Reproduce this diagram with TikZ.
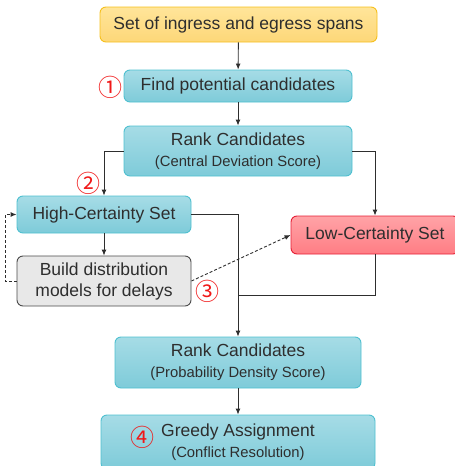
\documentclass[tikz,border=0pt]{standalone}
\usepackage{fontspec}
\setmainfont{Liberation Sans}
\newfontfamily\circfont{Noto Sans CJK SC}
\usetikzlibrary{arrows.meta}
\definecolor{txt}{HTML}{2E2E2E}
\definecolor{tealtop}{HTML}{A6DCE6}
\definecolor{tealbot}{HTML}{7ECBD9}
\definecolor{tealedge}{HTML}{4EC0D0}
\definecolor{yeltop}{HTML}{FFE59A}
\definecolor{yelbot}{HTML}{FDD778}
\definecolor{yeledge}{HTML}{F6C01C}
\definecolor{redtop}{HTML}{FFA3A7}
\definecolor{redbot}{HTML}{FF7D84}
\definecolor{rededge}{HTML}{E61E35}
\definecolor{grayfill}{HTML}{E8E8E8}
\definecolor{grayedge}{HTML}{4A4A4A}
\definecolor{numred}{HTML}{F01818}
\newcommand\subtext{\fontsize{14.8}{17}\selectfont}
\tikzset{
  box/.style={rounded corners=6pt, line width=0.9pt, align=center,
    text=txt, font=\fontsize{17.5}{21}\selectfont, inner sep=0pt},
  tealbox/.style={box, draw=tealedge, top color=tealtop, bottom color=tealbot},
  yelbox/.style={box, draw=yeledge, top color=yeltop, bottom color=yelbot},
  redbox/.style={box, draw=rededge, top color=redtop, bottom color=redbot},
  graybox/.style={box, draw=grayedge, fill=grayfill},
  conn/.style={draw=txt, line width=0.9pt, -{Latex[length=6pt,width=5pt]}},
  plain/.style={draw=txt, line width=0.9pt},
  dconn/.style={conn, dash pattern=on 3pt off 2pt},
  num/.style={text=numred, font=\circfont\fontsize{24}{24}\selectfont, inner sep=0pt}
}
\begin{document}
\begin{tikzpicture}[x=1pt, y=-1pt]
\useasboundingbox (0,0) rectangle (455,466);

\node[yelbox, minimum width=277pt, minimum height=35pt] (src) at (238.5,24.5) {Set of ingress and egress spans};
\node[tealbox, minimum width=228pt, minimum height=32pt] (find) at (238,86) {Find potential candidates};
\node[tealbox, minimum width=228pt, minimum height=50pt] (rank1) at (238,151)
  {Rank Candidates\\[0pt]{\subtext (Central Deviation Score)}};
\node[tealbox, minimum width=174pt, minimum height=37pt] (high) at (104,214.5) {High-Certainty Set};
\node[redbox, minimum width=168pt, minimum height=38pt] (low) at (375,235) {Low-Certainty Set};
\node[graybox, minimum width=174pt, minimum height=50pt] (build) at (104,281)
  {Build distribution\\models for delays};
\node[tealbox, minimum width=246pt, minimum height=51pt] (rank2) at (238,362.5)
  {Rank Candidates\\[0pt]{\subtext (Probability Density Score)}};
\node[tealbox, minimum width=274pt, minimum height=54pt] (greedy) at (238,442)
  {Greedy Assignment\\[0pt]{\subtext (Conflict Resolution)}};

% step markers
\node[num] (n1) at (110.5,87) {①};
\node[num] (n2) at (88,183) {②};
\node[num] (n3) at (207,291) {③};
\node[num] (n4) at (142,437) {④};

\coordinate (hc) at (238,214.5);
\coordinate (mg) at (238,295);
\coordinate (dl) at (5,281);
\coordinate (du) at (5,214.5);

\draw[conn] (src) -- (find);
\draw[conn] (find) -- (rank1);
\draw[conn] (rank1.west) -| (high.north);
\draw[conn] (rank1.east) -| (low.north);
\draw[conn] (high.south) -- (build.north);
\draw[conn] (high.east) -- (hc) -- (rank2.north);
\draw[plain] (low.south) |- (mg);
\draw[conn] (rank2) -- (greedy);
\draw[dconn] (build.west) -- (dl) -- (du) -- (high.west);
\draw[dconn] (build.east) -- (low.west);
\end{tikzpicture}
\end{document}
